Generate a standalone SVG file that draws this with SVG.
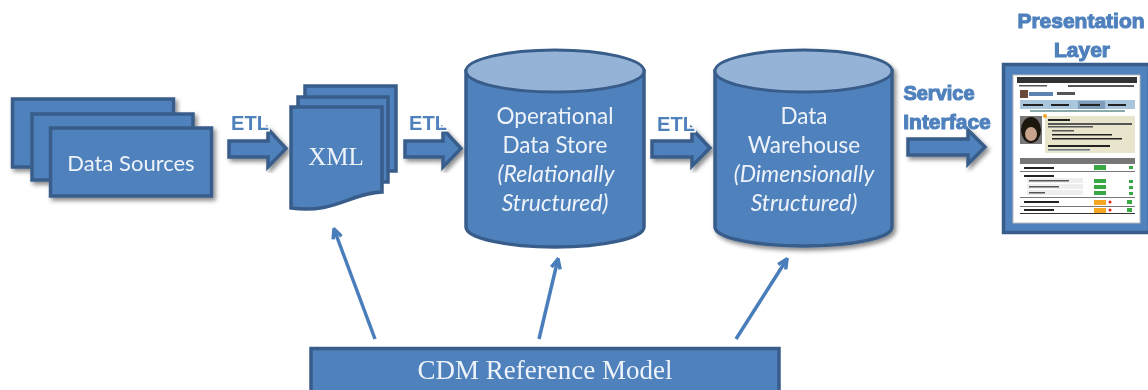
<svg xmlns="http://www.w3.org/2000/svg" width="1148" height="390" viewBox="0 0 1148 390">
<style>
.b{fill:#4f81bd;stroke:#385d8a;stroke-width:3.500;stroke-linejoin:miter}
.l{fill:#95b3d7;stroke:#385d8a;stroke-width:3}
.t{font-family:"Lato","Open Sans",sans-serif;font-size:22.500px;fill:#eef3f9;text-anchor:middle}
.i{font-style:italic;font-size:23px}
.s{font-family:"Liberation Serif",serif;fill:#eef3f9;text-anchor:middle}
.h{font-family:"Liberation Sans",sans-serif;font-weight:bold;fill:#4f81bd;stroke:#4f81bd;stroke-width:1.100px;text-anchor:middle}
.e{font-size:20px;paint-order:stroke;stroke:#fff;stroke-width:3px}
.c{fill:none;stroke:#4a7ebb;stroke-width:3.500;marker-end:url(#o)}
.g{fill:#555}.k{fill:#222}.u{fill:#39a845}.y{fill:#f5a623}
</style>
<defs>
<filter id="sh" x="-10%" y="-10%" width="125%" height="125%"><feGaussianBlur in="SourceGraphic" stdDeviation=".45" result="a"/><feDropShadow in="a" dx="2.500" dy="3" stdDeviation="2" flood-color="#000" flood-opacity=".45"/></filter>
<filter id="bl"><feGaussianBlur stdDeviation=".7"/></filter>
<filter id="sf"><feGaussianBlur stdDeviation=".4"/></filter>
<marker id="o" viewBox="0 0 12 12" refX="10.500" refY="6" markerWidth="12" markerHeight="12" markerUnits="userSpaceOnUse" orient="auto"><path d="M1 1.500L10.500 6L1 10.500" fill="none" stroke="#4a7ebb" stroke-width="3.500"/></marker>
</defs>
<g id="connectors" filter="url(#sf)">
<path class="c" d="M375 339L334 229"/>
<path class="c" d="M539 339L558 259"/>
<path class="c" d="M736 339L787 259"/>
<g filter="url(#sh)">
<path class="b" d="M229 141H268V129L286 148.500L268 167V157H229Z"/>
<path class="b" d="M405 141H443V129L461 148.500L443 167V157H405Z"/>
<path class="b" d="M652 141H692V129L710 148L692 166V157H652Z"/>
<path class="b" d="M908 139H968V130L985 147L968 164V155H908Z"/>
</g>
</g>
<g id="data-sources">
<g filter="url(#sh)">
<rect class="b" x="12.500" y="99" width="161" height="68"/>
<rect class="b" x="32" y="114" width="161" height="66"/>
<rect class="b" x="50.500" y="128" width="161" height="68"/>
</g>
<text class="t" x="131" y="171" font-size="22" style="font-size:22px" filter="url(#sf)">Data Sources</text>
</g>
<g id="xml">
<g filter="url(#sf)">
<rect class="b" x="305" y="86" width="91" height="85"/>
<rect class="b" x="298" y="97" width="90" height="85"/>
<path class="b" d="M291 107H382V192C350 193 335 214 291 208Z"/>
</g>
<text class="s" x="336" y="165" font-size="25" filter="url(#sf)">XML</text>
</g>
<g id="ods">
<g filter="url(#sf)">
<path class="b" d="M466 71V227C466 238 506 247 555 247C604 247 644 238 644 227V71Z"/>
<ellipse class="l" cx="555" cy="71" rx="89" ry="21"/>
</g>
<g class="t" filter="url(#sf)">
<text x="555" y="124">Operational</text>
<text x="555" y="153">Data Store</text>
<text class="i" x="556" y="182">(Relationally</text>
<text class="i" x="555" y="211">Structured)</text>
</g>
</g>
<g id="dw">
<g filter="url(#sh)">
<path class="b" d="M715 71V227C715 238 755 246 804 246C853 246 892 238 892 227V71Z"/>
<ellipse class="l" cx="803.500" cy="71" rx="88.500" ry="21"/>
</g>
<g class="t" filter="url(#sf)">
<text x="804" y="124">Data</text>
<text x="804" y="153">Warehouse</text>
<text class="i" x="804" y="182">(Dimensionally</text>
<text class="i" x="804" y="211">Structured)</text>
</g>
</g>
<g id="labels" filter="url(#sf)">
<text class="h e" x="250" y="130">ETL</text>
<text class="h e" x="428" y="130">ETL</text>
<text class="h e" x="676" y="131">ETL</text>
<text class="h" x="939" y="100" font-size="20">Service</text>
<text class="h" x="947" y="129" font-size="21">Interface</text>
<text class="h" x="1081" y="28" font-size="21">Presentation</text>
<text class="h" x="1082" y="57" font-size="21">Layer</text>
</g>
<g id="presentation-layer">
<rect class="b" x="1003.500" y="64.500" width="146" height="168" filter="url(#sf)"/>
<g filter="url(#bl)">
<rect x="1013" y="75" width="127" height="148" fill="#fff" stroke="#bbb" stroke-width="1"/>
<rect x="1017" y="77" width="120" height="6" fill="#333"/>
<rect class="g" x="1019" y="85" width="28" height="1.500"/>
<rect class="g" x="1068" y="85" width="66" height="2"/>
<rect x="1020" y="90" width="8" height="8" fill="#6b4a3a"/>
<rect x="1029" y="92" width="24" height="4" fill="#5c82b0"/>
<rect class="g" x="1057" y="92" width="18" height="3"/>
<rect x="1020" y="100" width="115" height="9" fill="#a9c6dd"/>
<rect x="1078" y="101" width="27" height="8" fill="#7e9dbb"/>
<rect class="k" x="1023" y="104" width="20" height="2"/>
<rect class="k" x="1051" y="104" width="18" height="2"/>
<rect class="k" x="1080" y="104" width="20" height="2"/>
<rect class="k" x="1108" y="104" width="18" height="2"/>
<rect x="1030" y="110" width="95" height="2" fill="#8aa"/>
<rect x="1020" y="116" width="22" height="28" fill="#777"/>
<ellipse cx="1031" cy="130" rx="10" ry="13" fill="#1c1410"/>
<ellipse cx="1031" cy="134" rx="6" ry="7" fill="#c9a48d"/>
<rect x="1045" y="116" width="90" height="37" fill="#e9e4cc"/>
<circle cx="1045" cy="116" r="2" fill="#f5a623"/>
<rect class="k" x="1048" y="119" width="22" height="2"/>
<rect class="g" x="1048" y="123" width="84" height="2"/>
<rect class="g" x="1048" y="126" width="45" height="1.500"/>
<rect class="g" x="1052" y="130" width="22" height="1.500"/>
<rect class="k" x="1052" y="134" width="60" height="1.500"/>
<rect class="k" x="1052" y="138" width="70" height="1.500"/>
<rect class="k" x="1048" y="145" width="62" height="2"/>
<rect x="1048" y="149" width="42" height="1.500" fill="#678"/>
<rect x="1020" y="158" width="115" height="6" fill="#777"/>
<rect class="k" x="1024" y="167" width="30" height="2"/>
<rect x="1094" y="165" width="12" height="5" class="u"/>
<rect class="u" x="1129" y="166" width="4" height="3"/>
<rect x="1020" y="171" width="115" height="1" fill="#777"/>
<rect class="k" x="1024" y="175" width="30" height="2"/>
<rect x="1027" y="178" width="56" height="5" fill="#eee"/>
<rect x="1027" y="184" width="56" height="5" fill="#eee"/>
<rect x="1027" y="190" width="56" height="5" fill="#eee"/>
<rect class="g" x="1029" y="180" width="40" height="1.500"/>
<rect class="g" x="1029" y="186" width="30" height="1.500"/>
<rect class="g" x="1029" y="192" width="16" height="1.500"/>
<rect class="u" x="1094" y="179" width="12" height="4"/>
<rect class="u" x="1094" y="185" width="12" height="4"/>
<rect class="u" x="1094" y="191" width="12" height="4"/>
<rect class="u" x="1129" y="180" width="4" height="3"/>
<rect class="u" x="1129" y="186" width="4" height="3"/>
<rect class="u" x="1129" y="192" width="4" height="3"/>
<rect x="1020" y="197" width="115" height="1" fill="#777"/>
<rect class="k" x="1024" y="201" width="35" height="2"/>
<rect class="y" x="1094" y="200" width="12" height="5"/>
<circle cx="1110" cy="202" r="1.500" fill="#d22"/>
<rect class="u" x="1127" y="200" width="5" height="4"/>
<rect x="1020" y="206" width="115" height="1" fill="#777"/>
<rect class="k" x="1024" y="209" width="30" height="2"/>
<rect class="y" x="1094" y="208" width="12" height="5"/>
<circle cx="1110" cy="210" r="1.500" fill="#d22"/>
<rect class="u" x="1127" y="208" width="5" height="4"/>
<rect x="1020" y="213" width="115" height="1" fill="#333"/>
</g>
</g>
<g id="cdm">
<rect class="b" x="311" y="348.500" width="468" height="44" filter="url(#sf)"/>
<text class="s" x="545" y="379" font-size="27" filter="url(#sf)">CDM Reference Model</text>
</g>
</svg>
